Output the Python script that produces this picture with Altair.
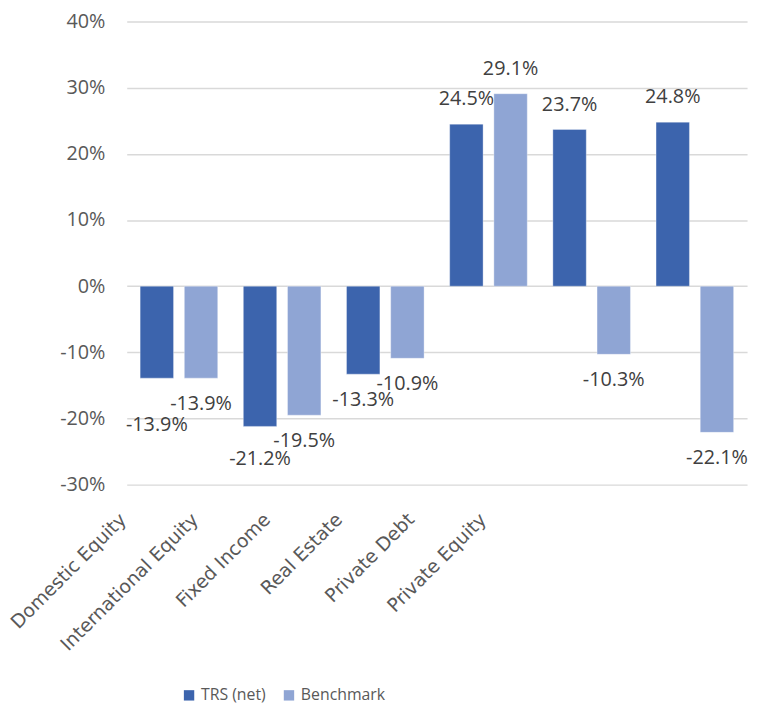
import altair as alt
import pandas as pd

categories = ["Domestic Equity", "International Equity", "Fixed Income",
              "Real Estate", "Private Debt", "Private Equity"]
series_names = ["TRS (net)", "Benchmark"]
trs_net = [-13.9, -21.2, -13.3, 24.5, 23.7, 24.8]
benchmark = [-13.9, -19.5, -10.9, 29.1, -10.3, -22.1]
y_ticks = [-0.3, -0.2, -0.1, 0.0, 0.1, 0.2, 0.3, 0.4]
colors = ["#3C64AD", "#8FA5D4"]

rows = []
for i, c in enumerate(categories):
    rows.append({"category": c, "series": series_names[0], "value": trs_net[i] / 100})
    rows.append({"category": c, "series": series_names[1], "value": benchmark[i] / 100})
df = pd.DataFrame(rows)
cat_df = pd.DataFrame({"category": categories})

W, H = 627, 468

x_band = alt.X("category:N", sort=categories, axis=None,
               scale=alt.Scale(paddingInner=0.248, paddingOuter=0.13))
x_off = alt.XOffset("series:N", sort=series_names,
                    scale=alt.Scale(paddingInner=0.244, paddingOuter=0))
y_enc = alt.Y("value:Q",
              scale=alt.Scale(domain=[-0.3, 0.4], nice=False, zero=False),
              axis=alt.Axis(values=y_ticks, format=".0%", title=None,
                            labelExpr="replace(datum.label, '\u2212', '-')",
                            domain=False, ticks=False, grid=True,
                            gridColor="#D9D9D9", gridWidth=1.5,
                            labelFont="Open Sans", labelFontSize=20,
                            labelColor="#595959", labelPadding=22))

bars = alt.Chart(df).mark_bar(stroke="#ffffff", strokeOpacity=0.35, strokeWidth=1).encode(
    x=x_band,
    xOffset=x_off,
    y=y_enc,
    color=alt.Color("series:N", sort=series_names,
                    scale=alt.Scale(domain=series_names, range=colors),
                    legend=alt.Legend(orient="none", legendX=55, legendY=673,
                                      direction="horizontal", title=None,
                                      symbolType="square", symbolSize=110,
                                      symbolStrokeWidth=0, labelFont="Open Sans",
                                      labelFontSize=16, labelColor="#595959",
                                      labelOffset=4, columnPadding=15, padding=0)),
)

lbl_base = alt.Chart(df).transform_calculate(
    lbl="replace(format(datum.value, '.1%'), '\u2212', '-')"
).encode(
    x=x_band, xOffset=x_off,
    y=alt.Y("value:Q"),
    text=alt.Text("lbl:N"),
)
txt_props = dict(font="Open Sans", fontSize=20, color="#404040", align="center", baseline="middle")
pos_lbl = lbl_base.mark_text(dy=-25, **txt_props).transform_filter("datum.value >= 0")
neg_lbl = lbl_base.mark_text(dy=26, **txt_props).transform_filter(
    "datum.value < 0 && !(datum.series == 'TRS (net)' && (datum.category == 'Domestic Equity' || datum.category == 'International Equity'))")
dom_lbl = lbl_base.mark_text(dy=47, **txt_props).transform_filter(
    "datum.series == 'TRS (net)' && datum.category == 'Domestic Equity'")
intl_lbl = lbl_base.mark_text(dy=33, **txt_props).transform_filter(
    "datum.series == 'TRS (net)' && datum.category == 'International Equity'")

main = alt.layer(bars, pos_lbl, neg_lbl, dom_lbl, intl_lbl)

cat_labels = alt.Chart(cat_df).mark_text(
    font="DejaVu Sans", fontSize=19, color="#595959", angle=315,
    align="right", baseline="top"
).encode(
    x=alt.X("category:N", sort=categories, axis=None,
            scale=alt.Scale(type="point", range=[-10, 354], padding=0)),
    y=alt.value(H + 26),
    text="category:N",
)

chart = alt.layer(main, cat_labels).resolve_scale(x="independent").properties(
    width=W, height=H,
    autosize=alt.AutoSizeParams(type="none"),
    padding={"left": 120, "top": 10, "right": 5, "bottom": 220},
).configure_view(stroke=None)

chart.save("out.html", embed_options={"renderer": "svg", "actions": False})
